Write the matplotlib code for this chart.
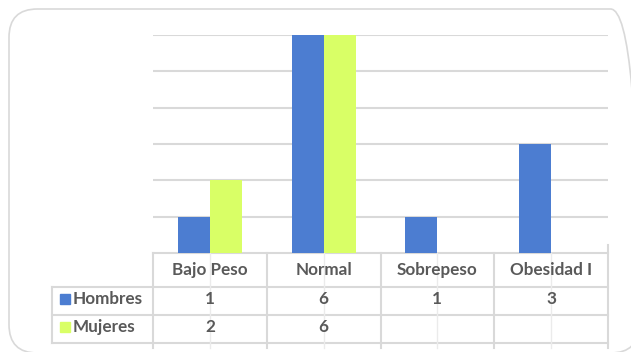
import matplotlib.pyplot as plt
from matplotlib.patches import FancyBboxPatch, Rectangle
from matplotlib.transforms import blended_transform_factory

categories = ['Bajo Peso', 'Normal', 'Sobrepeso', 'Obesidad I']
hombres = [1, 6, 1, 3]
mujeres = [2, 6, None, None]
series = [('Hombres', hombres, '#4C7DD1'), ('Mujeres', mujeres, '#D9FF66')]

W, H = 631, 352
fig = plt.figure(figsize=(W / 100, H / 100), dpi=100)
plt.rcParams['font.family'] = ['Lato', 'DejaVu Sans']

def px(y):
    # pixel row (from top) -> figure fraction
    return 1 - y / H

# rounded frame around the chart
frame = FancyBboxPatch((9 / W, px(353)), (639 - 9) / W, (353 - 9) / H,
                       boxstyle='round,pad=0,rounding_size=0.045',
                       transform=fig.transFigure, fill=False,
                       edgecolor='#D9D9D9', linewidth=1.2, mutation_aspect=W / H)
fig.patches.append(frame)

ax = fig.add_axes([153 / W, px(253), (608 - 153) / W, (253 - 35) / H])
n = len(categories)
bw = 0.281
for k, (name, vals, col) in enumerate(series):
    off = (k - 0.5) * bw
    for i, v in enumerate(vals):
        if v is not None:
            ax.bar(i + off, v, width=bw, color=col, zorder=3)

ax.set_xlim(-0.5, n - 0.5)
ax.set_ylim(0, 6)
ax.set_yticks(range(1, 7))
ax.yaxis.grid(True, color='#D9D9D9', linewidth=1.5, zorder=0)
ax.tick_params(left=False, bottom=False, labelleft=False, labelbottom=False)
for s in ax.spines.values():
    s.set_visible(False)

# data table under the plot
tr = blended_transform_factory(ax.transData, fig.transFigure)
lc = '#D9D9D9'
unit = (608 - 153) / n
x_leg = -0.5 - (153 - 52) / unit
rows = [253, 287, 315, 343]
bottom = 348

def hline(y, x0, x1):
    ax.plot([x0, x1], [px(y), px(y)], transform=tr, color=lc, lw=1.5, clip_on=False)

def vline(x, y0, y1, c=lc, lw=1.5):
    ax.plot([x, x], [px(y0), px(y1)], transform=tr, color=c, lw=lw, clip_on=False)

hline(rows[0], -0.5, n - 0.5)
for y in rows[1:]:
    hline(y, x_leg, n - 0.5)
vline(x_leg, rows[1], rows[3])
for j in range(n + 1):
    vline(j - 0.5, rows[0] if j < n else 245, bottom)
for i in range(n):
    vline(i, rows[0], bottom, c='#EBEBEB', lw=1)

txt = dict(fontsize=12.3, fontweight='bold', color='#595959', transform=tr,
           va='center', ha='center')
for i, c in enumerate(categories):
    ax.text(i, px(270), c, **txt)

row_y = [299, 327]
for (name, vals, col), y in zip(series, row_y):
    ax.add_patch(Rectangle((x_leg + 8 / unit, px(y + 5)), 10 / unit, 10 / H,
                           transform=tr, color=col, clip_on=False))
    ax.text(x_leg + 21 / unit, px(y), name, **{**txt, 'ha': 'left'})
    for i, v in enumerate(vals):
        if v is not None:
            ax.text(i, px(y), str(v), **txt)

fig.savefig('out.png', dpi=100)
